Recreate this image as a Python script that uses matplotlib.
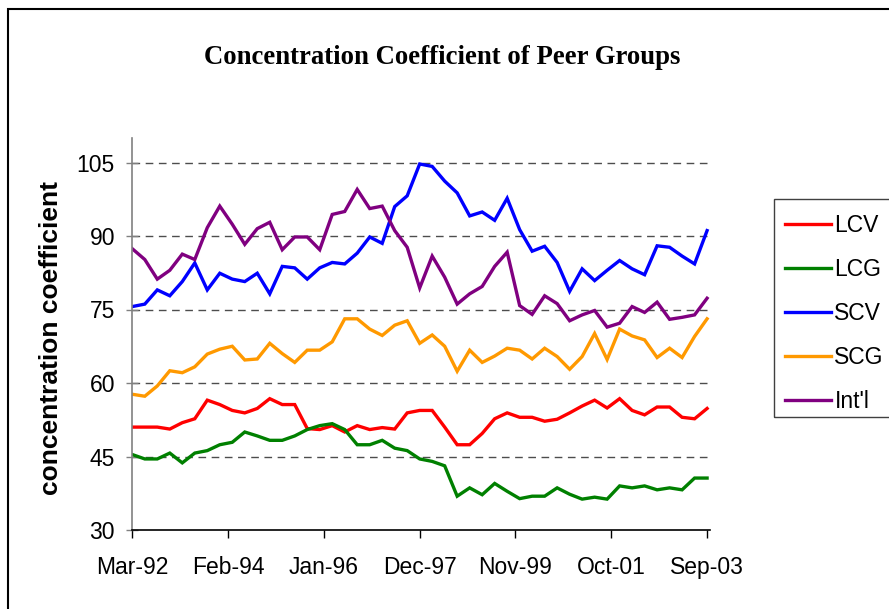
import matplotlib
matplotlib.use('Agg')
import matplotlib.pyplot as plt
from matplotlib.patches import Rectangle
from matplotlib.lines import Line2D

#dados trimestrais de mar-92 ate set-03 (47 pontos)
lcv = [51.0, 51.0, 51.0, 50.6, 51.9, 52.7, 56.5, 55.6, 54.4, 53.9, 54.8, 56.8,
       55.6, 55.6, 50.7, 50.5, 51.3, 50.0, 51.3, 50.5, 50.9, 50.6, 53.9, 54.4,
       54.4, 51.0, 47.4, 47.4, 49.7, 52.7, 53.9, 53.0, 53.0, 52.2, 52.6, 53.9,
       55.3, 56.5, 54.9, 56.8, 54.4, 53.5, 55.1, 55.1, 53.0, 52.7, 54.8]
lcg = [45.4, 44.5, 44.5, 45.7, 43.7, 45.7, 46.2, 47.4, 47.9, 50.0, 49.2, 48.3,
       48.3, 49.2, 50.5, 51.3, 51.7, 50.5, 47.4, 47.4, 48.3, 46.7, 46.2, 44.5,
       44.0, 43.1, 36.9, 38.6, 37.2, 39.5, 37.9, 36.4, 36.9, 36.9, 38.6, 37.3,
       36.3, 36.7, 36.3, 39.0, 38.6, 39.0, 38.2, 38.6, 38.2, 40.6, 40.6]
scv = [75.6, 76.1, 79.0, 77.8, 80.7, 84.5, 79.0, 82.4, 81.2, 80.7, 82.4, 78.2,
       83.8, 83.5, 81.2, 83.5, 84.6, 84.3, 86.5, 89.8, 88.5, 96.0, 98.2, 104.7,
       104.2, 101.2, 98.8, 94.1, 94.9, 93.2, 97.7, 91.3, 86.9, 87.9, 84.6, 78.7,
       83.3, 80.9, 83.0, 85.0, 83.3, 82.1, 88.0, 87.7, 85.9, 84.3, 91.1]
scg = [57.7, 57.3, 59.4, 62.5, 62.1, 63.3, 65.9, 66.9, 67.5, 64.7, 64.9, 68.1,
       66.0, 64.2, 66.7, 66.7, 68.4, 73.1, 73.1, 71.0, 69.7, 71.8, 72.7, 68.1,
       69.8, 67.5, 62.4, 66.7, 64.2, 65.5, 67.1, 66.7, 64.9, 67.1, 65.4, 62.8,
       65.4, 70.1, 64.8, 71.0, 69.6, 68.8, 65.2, 67.1, 65.2, 69.5, 73.1]
intl = [87.4, 85.2, 81.2, 83.0, 86.3, 85.2, 91.7, 96.1, 92.4, 88.3, 91.5, 92.8,
        87.2, 89.8, 89.8, 87.2, 94.4, 95.0, 99.5, 95.6, 96.1, 91.1, 87.7, 79.4,
        85.9, 81.6, 76.1, 78.2, 79.7, 83.8, 86.7, 75.8, 74.0, 77.8, 76.2, 72.7,
        73.9, 74.8, 71.4, 72.2, 75.6, 74.4, 76.5, 73.0, 73.4, 73.9, 77.3]

series_names = ["LCV", "LCG", "SCV", "SCG", "Int'l"]
series_colors = ["#FF0000", "#008000", "#0000FF", "#FF9900", "#800080"]

tick_labels = ["Mar-92", "Feb-94", "Jan-96", "Dec-97", "Nov-99", "Oct-01", "Sep-03"]
tick_months = [0, 23, 46, 69, 92, 115, 138]
y_ticks = [30, 45, 60, 75, 90, 105]

#meses desde mar-92
meses = [3 * i for i in range(len(lcv))]

W, H = 889, 609
fig = plt.figure(figsize=(W / 100, H / 100), dpi=100)
ax = fig.add_axes([132.3 / W, 1 - 530 / H, (710 - 132.3) / W, (530 - 138) / H])

for dados, cor in zip([lcv, lcg, scv, scg, intl], series_colors):
    ax.plot(meses, dados, color=cor, linewidth=2.4, solid_joinstyle='miter')

ax.set_xlim(0, 138.7)
ax.set_ylim(30, 110)
ax.set_yticks(y_ticks)
ax.set_yticklabels([str(v) for v in y_ticks], fontsize=16.5, family='Liberation Sans')
ax.set_xticks(tick_months)
ax.set_xticklabels(tick_labels, fontsize=16.5, family='Liberation Sans')

#grade tracejada
for v in y_ticks[1:]:
    ax.axhline(v, color='#4d4d4d', linewidth=1.0, dashes=(5.5, 4), zorder=0)

for s in ['top', 'right']:
    ax.spines[s].set_visible(False)
ax.spines['left'].set_color('#808080')
ax.spines['left'].set_linewidth(1.2)
ax.spines['bottom'].set_color('black')
ax.spines['bottom'].set_linewidth(1.2)
ax.tick_params(axis='y', direction='inout', length=9, width=1.0, color='#808080', pad=8)
ax.tick_params(axis='x', direction='out', length=6, width=1.0, color='black', pad=13)

fig.text(51 / W, 1 - 338 / H, "concentration coefficient", rotation=90,
         ha='center', va='center', fontsize=19, fontweight='bold', family='Liberation Sans')
fig.text(442 / W, 1 - 58 / H, "Concentration Coefficient of Peer Groups",
         ha='center', va='center', fontsize=19.3, fontweight='bold', family='Liberation Serif')

#moldura do grafico (cortada a direita e embaixo)
fig.patches.append(Rectangle((8 / W, -0.1), 1.2, 1 - 9 / H + 0.1, transform=fig.transFigure,
                             fill=False, edgecolor='black', linewidth=1.5))

#legenda
fig.patches.append(Rectangle((774 / W, 1 - 417 / H), 0.3, (417 - 199) / H, transform=fig.transFigure,
                             fill=False, edgecolor='#404040', linewidth=1.0))
handles = [Line2D([0], [0], color=c, linewidth=2.4) for c in series_colors]
leg = fig.legend(handles, series_names, loc='upper left', bbox_to_anchor=(776 / W, 1 - 205 / H),
                 frameon=False, prop={'family': 'Liberation Sans', 'size': 16.5},
                 handlelength=2.0, handletextpad=0.15, labelspacing=0.92, borderaxespad=0)

fig.savefig('out.png', dpi=100)
plt.close()
